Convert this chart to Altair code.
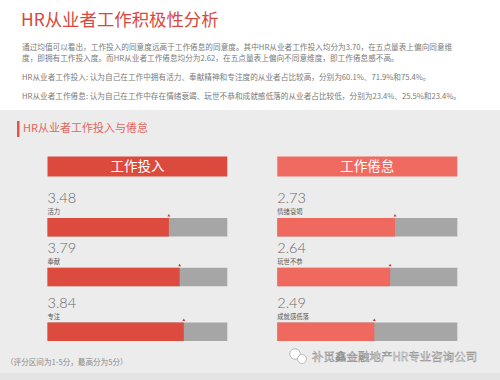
import altair as alt
import pandas as pd

# ---------------- data ----------------
title_text = "HR从业者工作积极性分析"
para_lines = [
    "通过均值可以看出，工作投入的同意度远高于工作倦怠的同意度。其中HR从业者工作投入均分为3.70，在五点量表上偏向同意维",
    "度，即拥有工作投入度。而HR从业者工作倦怠均分为2.62，在五点量表上偏向不同意维度，即工作倦怠感不高。",
    "HR从业者工作投入: 认为自己在工作中拥有活力、奉献精神和专注度的从业者占比较高，分别为60.1%、71.9%和75.4%。",
    "HR从业者工作倦怠: 认为自己在工作中存在情绪衰竭、玩世不恭和成就感低落的从业者占比较低，分别为23.4%、25.5%和23.4%。",
]
section_title = "HR从业者工作投入与倦怠"
headers = ["工作投入", "工作倦怠"]
engage_scores = ["3.48", "3.79", "3.84"]
engage_items = ["活力", "奉献", "专注"]
engage_fill = [0.675, 0.735, 0.758]
burnout_scores = ["2.73", "2.64", "2.49"]
burnout_items = ["情绪衰竭", "玩世不恭", "成就感低落"]
burnout_fill = [0.654, 0.627, 0.539]
footnote = "（评分区间为1-5分，最高分为5分）"
watermark = "补觅鑫金融地产HR专业咨询公司"

FONT = "Noto Sans CJK SC"
one = pd.DataFrame({"k": [0]})

y_scale = alt.Scale(type="linear", domain=[0, 1, 2], range=[222.5, 277, 337], nice=False, zero=False)


def column(header, scores, items, fills, x_range, head_color, bar_color):
    df = pd.DataFrame({"row": [0, 1, 2], "score": scores, "item": items, "fill": fills})
    xs = alt.Scale(domain=[0, 1], range=x_range, nice=False, zero=False)
    base = alt.Chart(df).transform_calculate(lo="0", hi="1")
    y = alt.Y("row:Q", scale=y_scale, axis=None)
    xlo = alt.X("lo:Q", scale=xs, axis=None)
    gray = base.mark_bar(size=18.5, color="#a6a6a6").encode(x=xlo, x2="hi:Q", y=y)
    red = base.mark_bar(size=18.5, color=bar_color).encode(x=xlo, x2="fill:Q", y=y)
    tri = base.mark_point(shape="triangle-up", filled=True, size=9, color="#c83a30",
                          opacity=1, yOffset=-12).encode(
        x=alt.X("fill:Q", scale=xs, axis=None), y=y)
    score = base.mark_text(align="left", baseline="middle", fontSize=14.5, color="#6a6a6a",
                           font="Lato", fontWeight=300, dy=-28).encode(x=xlo, y=y, text="score:N")
    item = base.mark_text(align="left", baseline="middle", fontSize=6.3, color="#555555",
                          font=FONT, dy=-15).encode(x=xlo, y=y, text="item:N")
    hbase = alt.Chart(pd.DataFrame({"h": [header]})).transform_calculate(
        lo="0", hi="1", mid="0.5")
    hrect = hbase.mark_rect(color=head_color).encode(
        x=xlo, x2="hi:Q", y=alt.value(156.5), y2=alt.value(176.5))
    htext = hbase.mark_text(color="white", fontSize=13.5, font=FONT,
                            baseline="middle").encode(
        x=alt.X("mid:Q", scale=xs, axis=None), y=alt.value(167), text="h:N")
    return alt.layer(hrect, htext, gray, red, tri, score, item)


left = column(headers[0], engage_scores, engage_items, engage_fill,
              [47.5, 227.3], "#dc4a3d", "#dd4b3e")
right = column(headers[1], burnout_scores, burnout_items, burnout_fill,
               [277.3, 457.3], "#ef6a60", "#f0695f")

panel = alt.Chart(one).mark_rect(color="#ececec").encode(
    x=alt.value(0), x2=alt.value(500), y=alt.value(110), y2=alt.value(373))
band = alt.Chart(one).mark_rect(color="#e4e4e4").encode(
    x=alt.value(0), x2=alt.value(500), y=alt.value(373), y2=alt.value(380))

title = alt.Chart(pd.DataFrame({"t": [title_text]})).mark_text(
    align="left", baseline="middle", fontSize=17.4, color="#d9473d", font=FONT).encode(
    x=alt.value(21), y=alt.value(21), text="t:N")

para_y = [48, 58.5, 78, 97]
paras = [
    alt.Chart(pd.DataFrame({"t": [line]})).mark_text(
        align="left", baseline="middle", fontSize=7.65, color="#7a7a7a", font=FONT).encode(
        x=alt.value(22), y=alt.value(py), text="t:N")
    for line, py in zip(para_lines, para_y)
]

sec_bar = alt.Chart(one).mark_rect(color="#e0544a").encode(
    x=alt.value(17), x2=alt.value(19.5), y=alt.value(121), y2=alt.value(137))
sec_text = alt.Chart(pd.DataFrame({"t": [section_title]})).mark_text(
    align="left", baseline="middle", fontSize=11, color="#e0665e", font=FONT).encode(
    x=alt.value(23), y=alt.value(129), text="t:N")

foot = alt.Chart(pd.DataFrame({"t": [footnote]})).mark_text(
    align="left", baseline="middle", fontSize=7.6, color="#8a8a8a", font=FONT).encode(
    x=alt.value(6), y=alt.value(363), text="t:N")

icon1 = alt.Chart(one).mark_point(shape="circle", size=110, filled=True, fill="white",
                                  stroke="#a0a0a0", strokeWidth=0.7, opacity=1).encode(
    x=alt.value(295), y=alt.value(354))
icon2 = alt.Chart(one).mark_point(shape="circle", size=80, filled=True, fill="white",
                                  stroke="#a0a0a0", strokeWidth=0.7, opacity=1).encode(
    x=alt.value(302), y=alt.value(359))
wm = alt.Chart(pd.DataFrame({"t": [watermark]})).mark_text(
    align="left", baseline="middle", fontSize=11.5, fill="#f4f4f4", stroke="#8a8a8a",
    strokeWidth=0.45, font=FONT).encode(
    x=alt.value(312), y=alt.value(358), text="t:N")

decor = alt.layer(panel, band, title, *paras, sec_bar, sec_text)
overlay = alt.layer(foot, icon1, icon2, wm)

chart = alt.layer(
    decor, left, right, overlay
).resolve_scale(x="independent").properties(
    width=500, height=380, padding=0, autosize=alt.AutoSizeParams(type="none"),
    background="white"
).configure_view(stroke=None)

chart.save("out.html", embed_options={"renderer": "svg", "actions": False})
